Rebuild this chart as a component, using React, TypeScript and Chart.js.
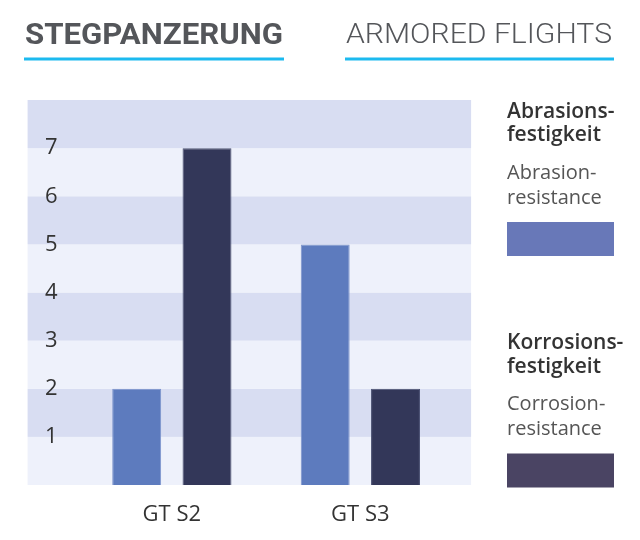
import React, { useEffect, useRef } from "react";
import { Chart, registerables } from "chart.js";

Chart.register(...registerables);

// ---- data ----
const categories = ["GT S2", "GT S3"];
const abrasionValues = [2, 5];
const corrosionValues = [7, 2];
const yTickValues = [1, 2, 3, 4, 5, 6, 7];
const yMax = 8;

const titleLeft = "STEGPANZERUNG";
const titleRight = "ARMORED FLIGHTS";

const seriesLabels = ["Abrasionsfestigkeit", "Korrosionsfestigkeit"];
const legendTitleLines = [
  ["Abrasions-", "festigkeit"],
  ["Korrosions-", "festigkeit"],
];
const legendSubLines = [
  ["Abrasion-", "resistance"],
  ["Corrosion-", "resistance"],
];

// ---- styles ----
const barColors = ["#5d7bbe", "#333759"];
const barBorders = ["#7b93cc", "#4a5072"];
const swatchColors = ["#6878b8", "#4a4463"];
const bandDark = "#d8ddf2";
const bandLight = "#eef1fb";
const accent = "#1cbaef";
const titleColor = "#54565a";

function drawFitted(
  ctx: CanvasRenderingContext2D,
  text: string,
  x: number,
  y: number,
  width: number,
  font: string,
  color: string
) {
  ctx.save();
  ctx.font = font;
  ctx.fillStyle = color;
  ctx.textAlign = "left";
  ctx.textBaseline = "alphabetic";
  const w = ctx.measureText(text).width;
  ctx.translate(x, y);
  ctx.scale(width / w, 1);
  ctx.fillText(text, 0, 0);
  ctx.restore();
}

const bandsPlugin = {
  id: "bands",
  beforeDraw(chart: any) {
    const { ctx, chartArea, scales } = chart;
    const y = scales.y;
    const left = chartArea.left - 50;
    const right = chartArea.right + 16.5;
    ctx.save();
    for (let v = 0; v < yMax; v++) {
      const top = y.getPixelForValue(v + 1);
      const bottom = y.getPixelForValue(v);
      ctx.fillStyle = v % 2 === 1 ? bandDark : bandLight;
      ctx.fillRect(left, top, right - left, bottom - top);
    }
    ctx.restore();
  },
};

const decorPlugin = {
  id: "decor",
  afterDraw(chart: any) {
    const { ctx } = chart;
    // titles
    drawFitted(ctx, titleLeft, 25, 43.5, 258, "700 29px Roboto, 'DejaVu Sans', sans-serif", titleColor);
    drawFitted(ctx, titleRight, 346, 43, 266, "300 28px Roboto, 'DejaVu Sans', sans-serif", titleColor);
    ctx.save();
    ctx.fillStyle = accent;
    ctx.fillRect(24, 57.5, 260, 3);
    ctx.fillRect(345, 57.5, 269, 3);
    ctx.restore();

    // legend
    const datasets = chart.data.datasets;
    const x0 = 507;
    datasets.forEach((ds: any, i: number) => {
      const base = 117.5 + i * 231.5;
      ctx.save();
      ctx.textAlign = "left";
      ctx.textBaseline = "alphabetic";
      ctx.font = "600 21px 'Open Sans', sans-serif";
      ctx.fillStyle = "#333333";
      legendTitleLines[i].forEach((t, k) => ctx.fillText(t, x0, base + k * 23.5));
      ctx.font = "400 20px 'Open Sans', sans-serif";
      ctx.fillStyle = "#555555";
      legendSubLines[i].forEach((t, k) => ctx.fillText(t, x0, base + 61 + k * 25));
      ctx.fillStyle = swatchColors[i];
      ctx.fillRect(x0, base + 104.5, 107, 34);
      ctx.restore();
    });
  },
};

export default function App() {
  const canvasRef = useRef<HTMLCanvasElement | null>(null);

  useEffect(() => {
    const canvas = canvasRef.current;
    if (!canvas) return;
    const chart = new Chart(canvas, {
      type: "bar",
      data: {
        labels: categories,
        datasets: [
          {
            label: seriesLabels[0],
            data: abrasionValues,
            backgroundColor: barColors[0],
            borderColor: barBorders[0],
            borderWidth: 1,
            categoryPercentage: 0.746,
            barPercentage: 0.696,
          },
          {
            label: seriesLabels[1],
            data: corrosionValues,
            backgroundColor: barColors[1],
            borderColor: barBorders[1],
            borderWidth: 1,
            categoryPercentage: 0.746,
            barPercentage: 0.696,
          },
        ],
      },
      options: {
        responsive: false,
        maintainAspectRatio: false,
        animation: false,
        layout: { padding: { top: 100, right: 185.4, bottom: 0, left: 0 } },
        plugins: {
          legend: { display: false },
          tooltip: { enabled: false },
          title: { display: false },
        },
        scales: {
          x: {
            type: "category",
            offset: true,
            grid: { display: false, drawTicks: false },
            border: { display: false },
            ticks: {
              color: "#333333",
              padding: 17,
              font: { family: "'Open Sans', sans-serif", size: 22 },
            },
            afterFit: (s: any) => {
              s.height = 55;
            },
          },
          y: {
            type: "linear",
            min: 0,
            max: yMax,
            grid: { display: false, drawTicks: false },
            border: { display: false },
            ticks: {
              stepSize: 1,
              color: "#333333",
              padding: 20,
              font: { family: "'Open Sans', sans-serif", size: 22 },
              callback: (v: any) => (yTickValues.includes(Number(v)) ? String(v) : ""),
            },
            afterFit: (s: any) => {
              s.width = 77.6;
            },
          },
        },
      },
      plugins: [bandsPlugin, decorPlugin],
    });
    return () => chart.destroy();
  }, []);

  return (
    <div style={{ position: "fixed", left: 0, top: 0, width: 640, height: 540, background: "#ffffff" }}>
      <canvas ref={canvasRef} width={640} height={540} style={{ display: "block", width: 640, height: 540 }} />
    </div>
  );
}
